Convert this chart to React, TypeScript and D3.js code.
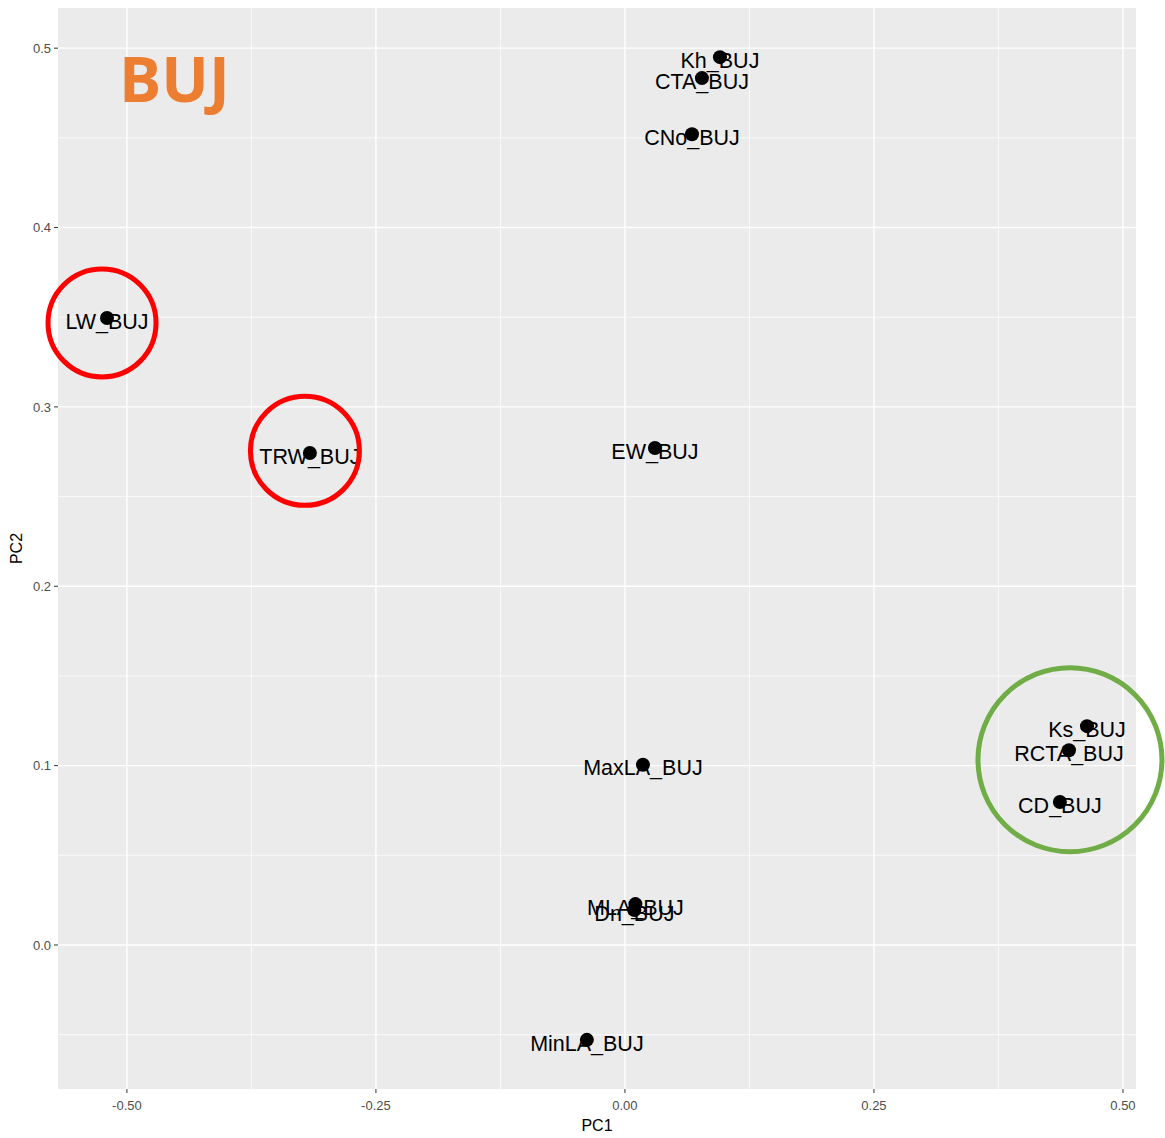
import React from 'react'
import { scaleLinear, extent } from 'd3'

// PCA loadings
const labels = ['Kh_BUJ', 'CTA_BUJ', 'CNo_BUJ', 'LW_BUJ', 'TRW_BUJ', 'EW_BUJ', 'MaxLA_BUJ', 'MLA_BUJ', 'Dn_BUJ', 'MinLA_BUJ', 'Ks_BUJ', 'RCTA_BUJ', 'CD_BUJ']
const pc1 = [0.0954, 0.0773, 0.0673, -0.520, -0.3163, 0.0301, 0.0181, 0.0105, 0.0095, -0.0382, 0.4639, 0.4458, 0.4367]
const pc2 = [0.495, 0.4833, 0.452, 0.3496, 0.2743, 0.2771, 0.1005, 0.0228, 0.0195, -0.0529, 0.122, 0.1086, 0.0797]

const xTicks = [-0.5, -0.25, 0, 0.25, 0.5]
const xTickLabels = ['-0.50', '-0.25', '0.00', '0.25', '0.50']
const xMinor = [-0.375, -0.125, 0.125, 0.375]
const yTicks = [0, 0.1, 0.2, 0.3, 0.4, 0.5]
const yTickLabels = ['0.0', '0.1', '0.2', '0.3', '0.4', '0.5']
const yMinor = [-0.05, 0.05, 0.15, 0.25, 0.35, 0.45]

// hand drawn highlight rings (centre in data units)
const ringX = [-0.525, -0.3213, 0.4468]
const ringY = [0.3468, 0.2755, 0.1033]
const ringR = [54, 54.5, 92]
const ringColor = ['#FF0000', '#FF0000', '#70AD47']

const expand = (ext: number[]) => {
  const pad = (ext[1] - ext[0]) * 0.05
  return [ext[0] - pad, ext[1] + pad]
}

const App = () => {
  const width = 1165
  const height = 1138
  const margin = { top: 8, right: 29, bottom: 49, left: 58 }
  const innerWidth = width - margin.left - margin.right
  const innerHeight = height - margin.top - margin.bottom

  const xScale = scaleLinear()
    .domain(expand(extent(pc1) as number[]))
    .range([0, innerWidth])
  const yScale = scaleLinear()
    .domain(expand(extent(pc2) as number[]))
    .range([innerHeight, 0])

  const labelFont = '"Liberation Sans", Arial, sans-serif'

  return (
    <div style={{ position: 'absolute', left: 0, top: 0 }}>
      <svg width={width} height={height} style={{ display: 'block', background: 'white' }}>
        <g transform={`translate(${margin.left},${margin.top})`}>
          <rect width={innerWidth} height={innerHeight} fill='#EBEBEB' />
          {xMinor.map(v => (
            <line key={'xm' + v} x1={xScale(v)} x2={xScale(v)} y1={0} y2={innerHeight} stroke='white' strokeWidth={0.7} />
          ))}
          {yMinor.map(v => (
            <line key={'ym' + v} y1={yScale(v)} y2={yScale(v)} x1={0} x2={innerWidth} stroke='white' strokeWidth={0.7} />
          ))}
          {xTicks.map(v => (
            <line key={'x' + v} x1={xScale(v)} x2={xScale(v)} y1={0} y2={innerHeight} stroke='white' strokeWidth={1.4} />
          ))}
          {yTicks.map(v => (
            <line key={'y' + v} y1={yScale(v)} y2={yScale(v)} x1={0} x2={innerWidth} stroke='white' strokeWidth={1.4} />
          ))}

          {labels.map((d, i) => (
            <circle key={'p' + d} cx={xScale(pc1[i])} cy={yScale(pc2[i])} r={7} fill='black' />
          ))}
          {labels.map((d, i) => (
            <text key={'t' + d} x={xScale(pc1[i])} y={yScale(pc2[i])} dy='0.5em' textAnchor='middle'
              fontFamily={labelFont} fontSize={21.5} fill='black'>{d}</text>
          ))}

          {ringX.map((v, i) => (
            <circle key={'r' + i} cx={xScale(v)} cy={yScale(ringY[i])} r={ringR[i]} fill='none'
              stroke={ringColor[i]} strokeWidth={5} />
          ))}

          <text x={61} y={94} fontFamily='"Open Sans", sans-serif' fontWeight='bold' fontSize={63} fill='#ED7D31'>BUJ</text>

          {xTicks.map((v, i) => (
            <g key={'xt' + v} transform={`translate(${xScale(v)},${innerHeight})`}>
              <line y1={0} y2={4} stroke='#333333' strokeWidth={1} />
              <text y={21} textAnchor='middle' fontFamily={labelFont} fontSize={13} fill='#4D4D4D'>{xTickLabels[i]}</text>
            </g>
          ))}
          {yTicks.map((v, i) => (
            <g key={'yt' + v} transform={`translate(0,${yScale(v)})`}>
              <line x1={-4} x2={0} stroke='#333333' strokeWidth={1} />
              <text x={-7} dy='0.36em' textAnchor='end' fontFamily={labelFont} fontSize={13} fill='#4D4D4D'>{yTickLabels[i]}</text>
            </g>
          ))}
          <text x={innerWidth / 2} y={innerHeight + 42} textAnchor='middle' fontFamily={labelFont} fontSize={16} fill='black'>PC1</text>
          <text transform={`translate(${-36},${innerHeight / 2}) rotate(-90)`} textAnchor='middle' fontFamily={labelFont}
            fontSize={16} fill='black'>PC2</text>
        </g>
      </svg>
    </div>
  )
}

export default App
